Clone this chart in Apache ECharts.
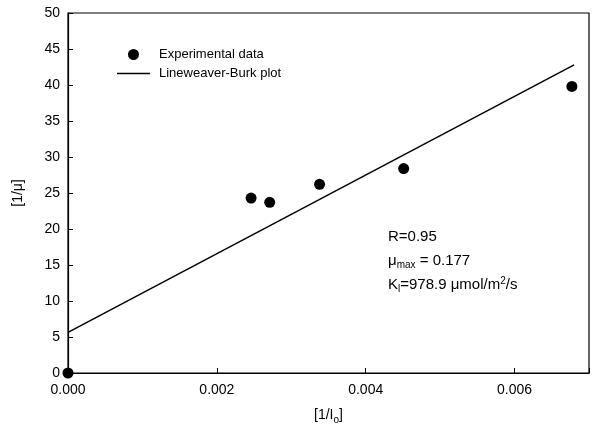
<!DOCTYPE html>
<html>
<head>
<meta charset="utf-8">
<script src="https://cdn.jsdelivr.net/npm/echarts@6/dist/echarts.min.js"></script>
<style>
  html, body { margin: 0; padding: 0; background: #fff; }
  #chart { width: 592px; height: 430px; }
</style>
</head>
<body>
<div id="chart"></div>
<script>
// measured points (1/Io, 1/mu)
var invLight = [0.0, 0.00246, 0.00271, 0.00338, 0.00451, 0.00677];
var invRate = [0.0, 24.3, 23.7, 26.2, 28.4, 39.8];

// fitted Lineweaver-Burk line, two end points
var fitX = [0.0, 0.0068];
var fitY = [5.65, 42.8];

var xTicks = ['0.000', '0.002', '0.004', '0.006'];

var font = 'Liberation Sans, Arial, sans-serif';

var chart = echarts.init(document.getElementById('chart'));

var option = {
  animation: false,
  textStyle: { fontFamily: font, color: '#000' },
  grid: {
    left: 68,
    right: 3,
    top: 13,
    bottom: 57,
    show: true,
    borderColor: '#000',
    borderWidth: 1.2
  },
  legend: {
    orient: 'vertical',
    left: 112,
    top: 43,
    itemWidth: 33,
    itemHeight: 11,
    itemGap: 6,
    textStyle: { fontSize: 13, color: '#000', fontFamily: font, padding: [0, 0, 0, 4] },
    data: [
      { name: 'Experimental data', icon: 'circle', itemStyle: { color: '#000', opacity: 1 } },
      { name: 'Lineweaver-Burk plot', icon: 'path://M0,0H220V10H0Z', itemStyle: { color: '#000' } }
    ]
  },
  xAxis: {
    type: 'value',
    min: 0,
    max: 0.007,
    interval: 0.002,
    name: '{a|[1/I}{sub|o}{a|]}',
    nameLocation: 'middle',
    nameGap: 31,
    nameTextStyle: {
      rich: {
        a: { fontSize: 14, fontFamily: font, color: '#000', lineHeight: 18, verticalAlign: 'bottom' },
        sub: { fontSize: 10, fontFamily: font, color: '#000', lineHeight: 10, verticalAlign: 'bottom', padding: [0, 0, -3, 0] }
      }
    },
    axisLine: { lineStyle: { color: '#000', width: 1.2 } },
    axisTick: { inside: true, length: 5, lineStyle: { color: '#000' } },
    axisLabel: {
      fontSize: 14,
      color: '#000',
      margin: 10,
      formatter: function (v) {
        var i = Math.round(v / 0.002);
        return xTicks[i] !== undefined ? xTicks[i] : '';
      }
    },
    splitLine: { show: false }
  },
  yAxis: {
    type: 'value',
    min: 0,
    max: 50,
    interval: 5,
    name: '[1/μ]',
    nameLocation: 'middle',
    nameGap: 43,
    nameRotate: 90,
    nameTextStyle: { fontSize: 14, color: '#000' },
    axisLine: { lineStyle: { color: '#000', width: 1.2 } },
    axisTick: { inside: true, length: 5, lineStyle: { color: '#000' } },
    axisLabel: { fontSize: 14, color: '#000', margin: 8 },
    splitLine: { show: false }
  },
  series: [
    {
      name: 'Experimental data',
      type: 'scatter',
      symbol: 'circle',
      symbolSize: 11,
      itemStyle: { color: '#000', opacity: 1 },
      z: 3,
      data: invLight.map(function (x, i) { return [x, invRate[i]]; })
    },
    {
      name: 'Lineweaver-Burk plot',
      type: 'line',
      symbol: 'none',
      lineStyle: { color: '#000', width: 1.5 },
      itemStyle: { color: '#000' },
      data: fitX.map(function (x, i) { return [x, fitY[i]]; })
    }
  ],
  graphic: [
    {
      type: 'text',
      left: 388,
      top: 225,
      style: {
        text: 'R=0.95\n{t|μ}{sub|max}{t| = 0.177}\n{t|K}{sub|l}{t|=978.9 μmol/m}{sup|2}{t|/s}',
        font: '15px ' + font,
        fill: '#000',
        lineHeight: 24,
        rich: {
          t: { fontSize: 15, fontFamily: font, fill: '#000', lineHeight: 24 },
          sub: { fontSize: 10, fontFamily: font, fill: '#000', lineHeight: 24, padding: [9, 0, 0, 0] },
          sup: { fontSize: 10, fontFamily: font, fill: '#000', lineHeight: 24, padding: [0, 0, 8, 0] }
        }
      }
    }
  ]
};

chart.setOption(option);
</script>
</body>
</html>
